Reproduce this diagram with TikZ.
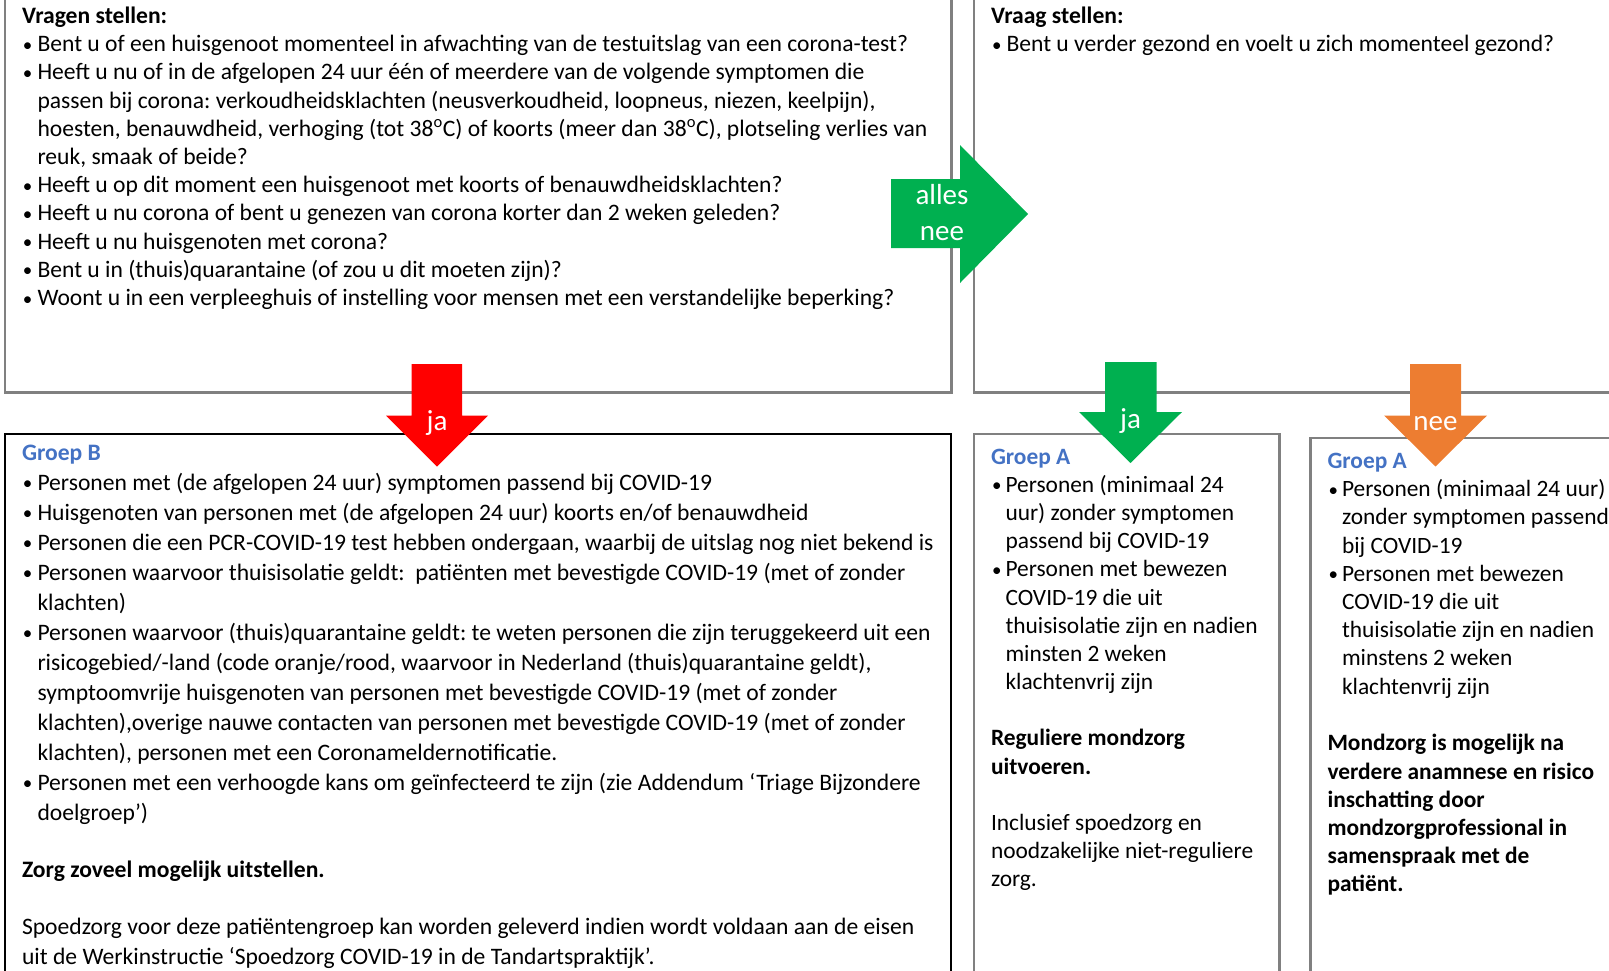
\documentclass[tikz,border=0pt]{standalone}
\usepackage{fontspec}
\setmainfont{Carlito}
\frenchspacing
\definecolor{boxgrey}{HTML}{808080}
\definecolor{groepblue}{HTML}{4472C4}
\definecolor{arrowred}{HTML}{FF0000}
\definecolor{arrowgreen}{HTML}{00B050}
\definecolor{arroworange}{HTML}{ED7D31}
\newlength\bulind
\newcommand\bl{\makebox[\bulind][l]{\hspace{1pt}\raisebox{0.5pt}{\fontsize{19}{19}\selectfont•}}}
\newcommand\ct{\hspace*{\bulind}}
\newcommand\tp{\rule{0pt}{20pt}}
\begin{document}
\begin{tikzpicture}[x=1pt,y=-1pt,
  greybox/.style={draw=boxgrey, line width=2.6pt},
  blackbox/.style={draw=black, line width=2.2pt},
  txt/.style={anchor=north west, inner sep=0pt, outer sep=0pt, align=left, font=\fontsize{23.4}{28.2}\selectfont},
  txtl/.style={txt, font=\fontsize{23.6}{28.2}\selectfont},
  txtb/.style={txt, font=\fontsize{23.6}{30}\selectfont},
  lbl/.style={anchor=base, inner sep=0pt, text=white, font=\fontsize{29}{34}\selectfont}]
\useasboundingbox (0,0) rectangle (1609,970);
% boxes
\draw[greybox] (5,-10) rectangle (951.3,392.5);
\draw[greybox] (974,-10) rectangle (1640,392.5);
\draw[blackbox] (5.3,434) rectangle (950.7,1000);
\draw[greybox] (974,433.8) rectangle (1279.5,1000);
\draw[greybox] (1310.7,438) rectangle (1640,1000);
% block arrows
\fill[arrowred] (411.5,364) -- (462,364) -- (462,415.5) -- (488,415.5) -- (437,466.5) -- (386,415.5) -- (411.5,415.5) -- cycle;
\fill[arrowgreen] (1105,362) -- (1156.5,362) -- (1156.5,412) -- (1182,412) -- (1130.5,463) -- (1079,412) -- (1105,412) -- cycle;
\fill[arroworange] (1410,364) -- (1461,364) -- (1461,415.5) -- (1487,415.5) -- (1435.5,466.5) -- (1384,415.5) -- (1410,415.5) -- cycle;
\fill[arrowgreen] (891,179) -- (960,179) -- (960,145) -- (1028,214) -- (960,283) -- (960,248) -- (891,248) -- cycle;
\node[lbl] (lja1) at (437,430.5) {ja};
\node[lbl] (lja2) at (1130.5,428) {ja};
\node[lbl] (lnee) at (1435.5,430) {nee};
\node[lbl] (lalles) at (942,204) {alles};
\node[lbl] (lallesnee) at (942,240.5) {nee};
% texts
\setlength\bulind{15.5pt}
\node[txtl] (q1) at (22,3.5) {\tp\textbf{Vragen stellen:}\\
\bl Bent u of een huisgenoot momenteel in afwachting van de testuitslag van een corona-test?\\
\bl Heeft u nu of in de afgelopen 24 uur één of meerdere van de volgende symptomen die\\
\ct passen bij corona: verkoudheidsklachten (neusverkoudheid, loopneus, niezen, keelpijn),\\
\ct hoesten, benauwdheid, verhoging (tot 38\textsuperscript{o}C) of koorts (meer dan 38\textsuperscript{o}C), plotseling verlies van\\
\ct reuk, smaak of beide?\\
\bl Heeft u op dit moment een huisgenoot met koorts of benauwdheidsklachten?\\
\bl Heeft u nu corona of bent u genezen van corona korter dan 2 weken geleden?\\
\bl Heeft u nu huisgenoten met corona?\\
\bl Bent u in (thuis)quarantaine (of zou u dit moeten zijn)?\\
\bl Woont u in een verpleeghuis of instelling voor mensen met een verstandelijke beperking?};
\node[txtl] (q2) at (991,3.5) {\tp\textbf{Vraag stellen:}\\
\bl Bent u verder gezond en voelt u zich momenteel gezond?};
\node[txtb] (gb) at (22,440) {\tp{\bfseries\color{groepblue}Groep B}\\
\bl Personen met (de afgelopen 24 uur) symptomen passend bij COVID-19\\
\bl Huisgenoten van personen met (de afgelopen 24 uur) koorts en/of benauwdheid\\
\bl Personen die een PCR-COVID-19 test hebben ondergaan, waarbij de uitslag nog niet bekend is\\
\bl Personen waarvoor thuisisolatie geldt:\ \ patiënten met bevestigde COVID-19 (met of zonder\\
\ct klachten)\\
\bl Personen waarvoor (thuis)quarantaine geldt: te weten personen die zijn teruggekeerd uit een\\
\ct risicogebied/-land (code oranje/rood, waarvoor in Nederland (thuis)quarantaine geldt),\\
\ct symptoomvrije huisgenoten van personen met bevestigde COVID-19 (met of zonder\\
\ct klachten),overige nauwe contacten van personen met bevestigde COVID-19 (met of zonder\\
\ct klachten), personen met een Coronameldernotificatie.\\
\bl Personen met een verhoogde kans om geïnfecteerd te zijn (zie Addendum ‘Triage Bijzondere\\
\ct doelgroep’)\\[27pt]
\textbf{Zorg zoveel mogelijk uitstellen.}\\[27pt]
Spoedzorg voor deze patiëntengroep kan worden geleverd indien wordt voldaan aan de eisen\\
uit de Werkinstructie ‘Spoedzorg COVID-19 in de Tandartspraktijk’.};
\setlength\bulind{14.5pt}
\node[txt] (ga1) at (991,444) {\tp{\bfseries\color{groepblue}Groep A}\\
\bl Personen (minimaal 24\\
\ct uur) zonder symptomen\\
\ct passend bij COVID-19\\
\bl Personen met bewezen\\
\ct COVID-19 die uit\\
\ct thuisisolatie zijn en nadien\\
\ct minsten 2 weken\\
\ct klachtenvrij zijn\\[28pt]
\textbf{Reguliere mondzorg}\\
\textbf{uitvoeren.}\\[28pt]
Inclusief spoedzorg en\\
noodzakelijke niet-reguliere\\
zorg.};
\node[txt] (ga2) at (1327.5,448.5) {\tp{\bfseries\color{groepblue}Groep A}\\
\bl Personen (minimaal 24 uur)\\
\ct zonder symptomen passend\\
\ct bij COVID-19\\
\bl Personen met bewezen\\
\ct COVID-19 die uit\\
\ct thuisisolatie zijn en nadien\\
\ct minstens 2 weken\\
\ct klachtenvrij zijn\\[28.5pt]
\textbf{Mondzorg is mogelijk na}\\
\textbf{verdere anamnese en risico}\\
\textbf{inschatting door}\\
\textbf{mondzorgprofessional in}\\
\textbf{samenspraak met de}\\
\textbf{patiënt.}};
\end{tikzpicture}
\end{document}
